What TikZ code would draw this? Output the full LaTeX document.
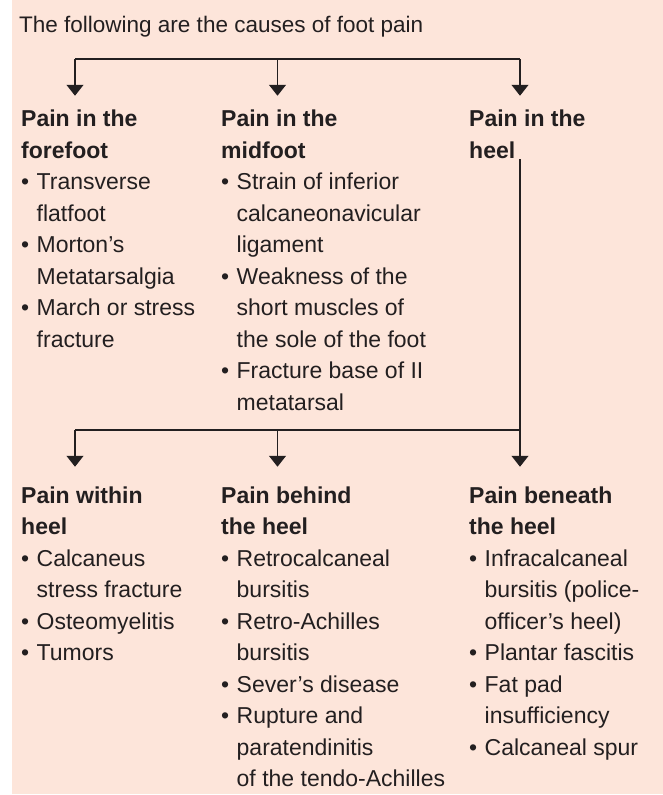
\documentclass[tikz,border=0pt]{standalone}
\usepackage{fontspec}
\setmainfont{Liberation Sans}
\usetikzlibrary{arrows.meta}
\definecolor{peach}{HTML}{FDE5DA}
\definecolor{ink}{HTML}{231F20}
\newcommand{\bl}{\makebox[15.5pt][l]{•}}
\newcommand{\ci}{\hspace*{15.5pt}}
\tikzset{
  col/.style={anchor=base west, inner sep=0pt, text=ink, font=\fontsize{23}{31.5}\selectfont},
  ttl/.style={anchor=base west, inner sep=0pt, text=ink, font=\fontsize{22.5}{27}\selectfont},
  link/.style={draw=ink, line width=1.3pt},
  arrtop/.style={link, -{Triangle[width=17pt,length=11pt]}, shorten >=8.5pt},
  arrbot/.style={link, -{Triangle[width=17pt,length=11pt]}, shorten >=14.3pt},
}
\begin{document}
\begin{tikzpicture}[x=1pt,y=1pt]
\useasboundingbox (0,0) rectangle (663,-795);
\fill[peach] (12,0) rectangle (663,-794);

\node[ttl] (title) at (19,-32) {The following are the causes of foot pain};

\node[col] (fore) at (21,-126.5) {\begin{tabular}[t]{@{}l@{}}
\textbf{Pain in the}\\
\textbf{forefoot}\\
\bl Transverse\\
\ci flatfoot\\
\bl Morton’s\\
\ci Metatarsalgia\\
\bl March or stress\\
\ci fracture
\end{tabular}};

\node[col] (mid) at (221,-126.5) {\begin{tabular}[t]{@{}l@{}}
\textbf{Pain in the}\\
\textbf{midfoot}\\
\bl Strain of inferior\\
\ci calcaneonavicular\\
\ci ligament\\
\bl Weakness of the\\
\ci short muscles of\\
\ci the sole of the foot\\
\bl Fracture base of II\\
\ci metatarsal
\end{tabular}};

\node[col] (heel) at (469,-126.5) {\begin{tabular}[t]{@{}l@{}}
\textbf{Pain in the}\\
\textbf{heel}
\end{tabular}};

\node[col] (within) at (21,-503.3) {\begin{tabular}[t]{@{}l@{}}
\textbf{Pain within}\\
\textbf{heel}\\
\bl Calcaneus\\
\ci stress fracture\\
\bl Osteomyelitis\\
\bl Tumors
\end{tabular}};

\node[col] (behind) at (221,-503.3) {\begin{tabular}[t]{@{}l@{}}
\textbf{Pain behind}\\
\textbf{the heel}\\
\bl Retrocalcaneal\\
\ci bursitis\\
\bl Retro-Achilles\\
\ci bursitis\\
\bl Sever’s disease\\
\bl Rupture and\\
\ci paratendinitis\\
\ci of the tendo-Achilles
\end{tabular}};

\node[col] (beneath) at (469,-503.3) {\begin{tabular}[t]{@{}l@{}}
\textbf{Pain beneath}\\
\textbf{the heel}\\
\bl Infracalcaneal\\
\ci bursitis (police-\\
\ci officer’s heel)\\
\bl Plantar fascitis\\
\bl Fat pad\\
\ci insufficiency\\
\bl Calcaneal spur
\end{tabular}};

% top branching
\coordinate (t1) at (75,-59);
\coordinate (t2) at (277.5,-59);
\coordinate (t3) at (520,-59);
\draw[link] (t1) -- (t3);
\draw[arrtop] (t1) -- (t1 |- fore.north);
\draw[arrtop] (t2) -- (t2 |- mid.north);
\draw[arrtop] (t3) -- (t3 |- heel.north);

% from heel down to bottom branching
\coordinate (b1) at (75,-430);
\coordinate (b2) at (277.5,-430);
\coordinate (b3) at (520,-430);
\draw[link] ([yshift=8.5pt]heel.south -| b3) -- (b3) -- (b1);
\draw[arrbot] (b1) -- (b1 |- within.north);
\draw[arrbot] (b2) -- (b2 |- behind.north);
\draw[arrbot] (b3) -- (b3 |- beneath.north);
\end{tikzpicture}
\end{document}
